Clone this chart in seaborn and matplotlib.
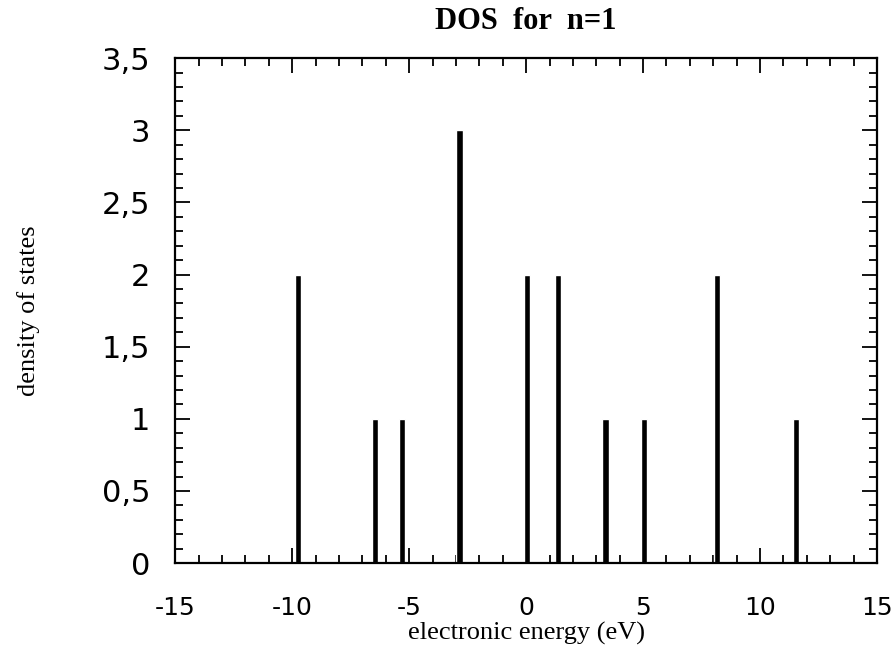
import seaborn as sns
import matplotlib.pyplot as plt
from matplotlib.ticker import MultipleLocator, FuncFormatter

# peak positions (eV) and their degeneracy
energy = [-9.75, -6.45, -5.3, -2.85, 0.05, 1.35, 3.4, 5.05, 8.15, 11.55]
dos = [2, 1, 1, 3, 2, 2, 1, 1, 2, 1]

x_ticks = [-15, -10, -5, 0, 5, 10, 15]
y_ticks = [0, 0.5, 1, 1.5, 2, 2.5, 3, 3.5]

sns.set_style("ticks", {"text.color": "black", "xtick.color": "black",
                        "ytick.color": "black", "axes.labelcolor": "black",
                        "axes.edgecolor": "black"})
fig = plt.figure(figsize=(8.94, 6.54), dpi=100)
ax = fig.add_axes([0.196, 0.139, 0.785, 0.772])

# bar width ~0.27 eV, expressed relative to the smallest gap between peaks
min_gap = min(b - a for a, b in zip(sorted(energy), sorted(energy)[1:]))
sns.barplot(x=energy, y=dos, native_scale=True, width=0.27 / min_gap,
            color="black", saturation=1, ax=ax)

ax.set_xlim(-15, 15)
ax.set_ylim(0, 3.5)
ax.set_xticks(x_ticks)
ax.set_yticks(y_ticks)
ax.xaxis.set_minor_locator(MultipleLocator(1))
ax.yaxis.set_minor_locator(MultipleLocator(0.1))
ax.yaxis.set_major_formatter(FuncFormatter(lambda v, p: f"{v:g}".replace(".", ",")))
ax.xaxis.set_major_formatter(FuncFormatter(lambda v, p: f"{v:g}"))

ax.tick_params(which="both", direction="in", top=True, right=True, width=1.3)
ax.tick_params(which="major", length=11)
ax.tick_params(which="minor", length=6)
ax.tick_params(axis="y", labelsize=22, pad=18)
ax.tick_params(axis="x", labelsize=18, pad=24)
for s in ax.spines.values():
    s.set_linewidth(1.6)
    s.set_visible(True)

ax.set_title("DOS  for  n=1", fontfamily="Liberation Serif", fontweight="bold",
             fontsize=22, pad=21)
ax.set_xlabel("electronic energy (eV)", fontfamily="Liberation Serif", fontsize=19, labelpad=1)
ax.set_ylabel("density of states", fontfamily="Liberation Serif", fontsize=19, labelpad=44)

fig.savefig("out.png", dpi=100)
